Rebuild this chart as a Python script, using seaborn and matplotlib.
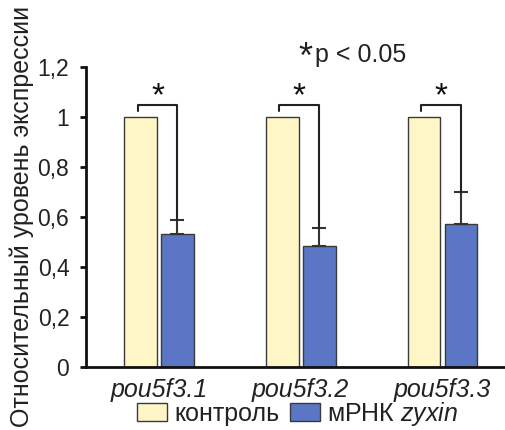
import numpy as np
import matplotlib
matplotlib.use('agg')
import matplotlib.pyplot as plt
import pandas as pd
import seaborn as sns

genes = ["pou5f3.1", "pou5f3.2", "pou5f3.3"]
groups = ["контроль", "мРНК $\\it{zyxin}$"]
control = [1.0, 1.0, 1.0]
zyxin = [0.532, 0.484, 0.572]
zyxin_err = [0.056, 0.073, 0.128]
yticks = [0, 0.2, 0.4, 0.6, 0.8, 1.0, 1.2]
ytick_labels = ["0", "0,2", "0,4", "0,6", "0,8", "1", "1,2"]
colors = ["#fff6c8", "#5a76c4"]

sns.set_style("white")
plt.rcParams['font.family'] = ['Liberation Sans', 'DejaVu Sans']
plt.rcParams['mathtext.fontset'] = 'custom'
plt.rcParams['mathtext.it'] = 'Liberation Sans:italic'
plt.rcParams['mathtext.rm'] = 'Liberation Sans'

df = pd.DataFrame({
    "gene": genes * 2,
    "group": [groups[0]] * 3 + [groups[1]] * 3,
    "value": control + zyxin,
})

fig = plt.figure(figsize=(5.06, 4.30), dpi=100)
ax = fig.add_axes([86 / 506, 63 / 430, 1 - 86 / 506, (367 - 67) / 430])

sns.barplot(data=df, x="gene", y="value", hue="group", hue_order=groups,
            palette=colors, saturation=1, width=0.52, gap=0.11, edgecolor="#3a3a3a",
            linewidth=1.0, errorbar=None, ax=ax)
ax.get_legend().remove()

ax.set_ylim(0, 1.2)
ax.set_xlim(-0.515, 2.448)
ax.set_yticks(yticks)
ax.set_yticklabels(ytick_labels, fontsize=16.5, color="#222222")
ax.set_xticks(range(len(genes)))
ax.set_xticklabels(genes, fontsize=18, style="italic", color="#222222")
ax.set_xlabel("")
ax.set_ylabel("")
sns.despine(ax=ax, top=True, right=True)
for s in ["left", "bottom"]:
    ax.spines[s].set_linewidth(2)
    ax.spines[s].set_color("#111111")
ax.tick_params(axis="y", direction="out", length=4, width=2, color="#111111", pad=8, left=True)
ax.tick_params(axis="x", length=0, pad=8)

# error bars (upward only) and significance brackets
ctrl_bars = ax.containers[0]
zyx_bars = ax.containers[1]
for i in range(len(genes)):
    cb = ctrl_bars[i]
    zb = zyx_bars[i]
    xc = cb.get_x() + cb.get_width() / 2
    xz = zb.get_x() + zb.get_width() / 2
    ax.errorbar(xz, zyxin[i], yerr=[[0], [zyxin_err[i]]], fmt="none",
                ecolor="#333333", elinewidth=1.5, capsize=5, capthick=1.5)
    top = zyxin[i] + zyxin_err[i]
    xl = xc - 0.02
    ax.plot([xl, xl, xz, xz], [1.025, 1.048, 1.048, top], color="#222222",
            lw=1.5, clip_on=False)
    ax.text((xl + xz) / 2, 1.02, "*", ha="center", va="bottom", fontsize=24,
            color="#111111", clip_on=False)

fig.text(305 / 506, 1 - 58 / 430, "*", ha="center", va="center", fontsize=26, color="#222222")
fig.text(315 / 506, 1 - 55 / 430, "p < 0.05", ha="left", va="center", fontsize=18, color="#222222")

fig.text(22 / 506, 3 / 430, "Относительный уровень экспрессии", rotation=90,
         ha="center", va="bottom", fontsize=18, color="#222222")

handles = [plt.Rectangle((0, 0), 1, 1, facecolor=c, edgecolor="#3a3a3a", lw=1.0) for c in colors]
fig.legend(handles, groups, loc="center", bbox_to_anchor=(298 / 506, 1 - 414 / 430),
           ncol=2, frameon=False, fontsize=18, handlelength=1.2, handleheight=0.75,
           handletextpad=0.3, columnspacing=0.4, borderpad=0, labelcolor="#222222")

fig.savefig("out.png", dpi=100)
